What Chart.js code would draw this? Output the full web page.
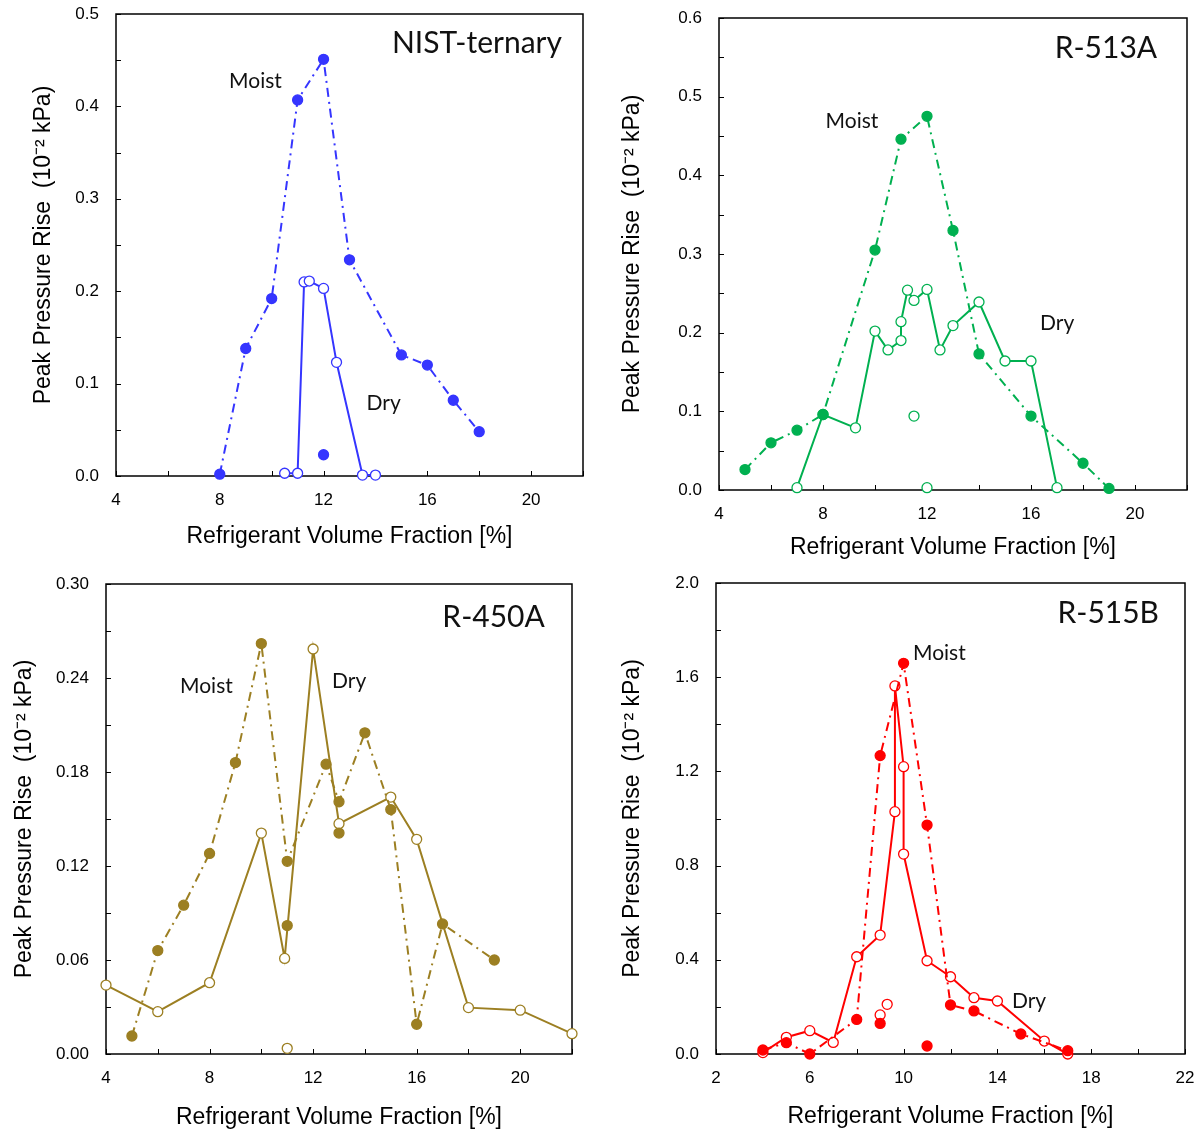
<!DOCTYPE html>
<html>
<head>
<meta charset="utf-8">
<script src="https://cdn.jsdelivr.net/npm/chart.js@4.4.1/dist/chart.umd.min.js"></script>
<style>
  body { margin: 0; background: #fff; }
  #wrap { position: relative; width: 1202px; height: 1134px; }
  canvas { position: absolute; }
</style>
</head>
<body>
<div id="wrap">
  <canvas id="nist" width="600" height="565" style="left:0;top:0"></canvas>
  <canvas id="r513" width="602" height="565" style="left:600px;top:0"></canvas>
  <canvas id="r450" width="600" height="569" style="left:0;top:565px"></canvas>
  <canvas id="r515" width="602" height="569" style="left:600px;top:565px"></canvas>
</div>
<script>
// NIST-ternary
const nistMoistX = [8, 9, 10, 11, 12, 13, 15, 16, 17, 18];
const nistMoistY = [0.002, 0.138, 0.192, 0.407, 0.451, 0.234, 0.131, 0.120, 0.082, 0.048];
const nistMoistLoneX = [12];
const nistMoistLoneY = [0.023];
const nistDryX = [10.5, 11, 11.25, 11.45, 12, 12.5, 13.5, 14];
const nistDryY = [0.003, 0.003, 0.210, 0.211, 0.203, 0.123, 0.001, 0.001];
const nistXLabels = [4, 8, 12, 16, 20];
const nistYLabels = [0, 0.1, 0.2, 0.3, 0.4, 0.5];

// R-513A
const r513MoistX = [5, 6, 7, 8, 10, 11, 12, 13, 14, 16, 18, 19];
const r513MoistY = [0.026, 0.060, 0.076, 0.096, 0.305, 0.446, 0.475, 0.330, 0.173, 0.094, 0.034, 0.002];
const r513DryX = [7, 8, 9.25, 10, 10.5, 11, 11, 11.25, 11.5, 12, 12.5, 13, 14, 15, 16, 17];
const r513DryY = [0.003, 0.096, 0.079, 0.202, 0.178, 0.190, 0.214, 0.254, 0.241, 0.255, 0.178, 0.209, 0.239, 0.164, 0.164, 0.003];
const r513DryLoneX = [11.5, 12];
const r513DryLoneY = [0.094, 0.003];
const r513XLabels = [4, 8, 12, 16, 20];
const r513YLabels = [0, 0.1, 0.2, 0.3, 0.4, 0.5, 0.6];

// R-450A
const r450MoistX = [5, 6, 7, 8, 9, 10, 11, 12.5, 13, 14, 15, 16, 17, 19];
const r450MoistY = [0.0115, 0.066, 0.095, 0.128, 0.186, 0.262, 0.123, 0.185, 0.161, 0.205, 0.156, 0.019, 0.083, 0.060];
const r450MoistLoneX = [11, 13];
const r450MoistLoneY = [0.082, 0.141];
const r450DryX = [4, 6, 8, 10, 10.9, 12, 13, 15, 16, 18, 20, 22];
const r450DryY = [0.044, 0.027, 0.0455, 0.141, 0.061, 0.2585, 0.147, 0.164, 0.137, 0.0296, 0.028, 0.013];
const r450DryLoneX = [11];
const r450DryLoneY = [0.0036];
const r450XLabels = [4, 8, 12, 16, 20];
const r450YLabels = [0, 0.06, 0.12, 0.18, 0.24, 0.30];

// R-515B
const r515MoistX = [4, 5, 6, 8, 9, 10, 11, 12, 13, 15, 17];
const r515MoistY = [0.017, 0.048, 0.0, 0.147, 1.267, 1.659, 0.972, 0.208, 0.183, 0.085, 0.014];
const r515MoistLoneX = [9, 11];
const r515MoistLoneY = [0.130, 0.034];
const r515DryX = [4, 5, 6, 7, 8, 9, 9.63, 9.63, 10, 10, 11, 12, 13, 14, 16, 17];
const r515DryY = [0.006, 0.071, 0.099, 0.049, 0.413, 0.505, 1.029, 1.563, 1.22, 0.849, 0.396, 0.328, 0.239, 0.225, 0.055, 0.0];
const r515DryLoneX = [9, 9.3];
const r515DryLoneY = [0.166, 0.211];
const r515XLabels = [2, 6, 10, 14, 18, 22];
const r515YLabels = [0, 0.4, 0.8, 1.2, 1.6, 2.0];

Chart.defaults.font.family = "'Liberation Sans', Arial, sans-serif";
Chart.defaults.color = '#000';

const pts = (xs, ys) => xs.map((x, i) => ({ x: x, y: ys[i] }));
const has = (arr, v) => arr.some(a => Math.abs(a - v) < 1e-9);

// frame, inward tick marks and text notes
const panelDecor = {
  id: 'panelDecor',
  beforeDatasetsDraw(chart) {
    const { ctx, chartArea: a, scales } = chart;
    ctx.save();
    ctx.strokeStyle = '#000';
    ctx.lineWidth = 1;
    scales.x.ticks.forEach(t => {
      const px = Math.round(scales.x.getPixelForValue(t.value)) + 0.5;
      ctx.beginPath(); ctx.moveTo(px, a.bottom); ctx.lineTo(px, a.bottom - 5); ctx.stroke();
    });
    scales.y.ticks.forEach(t => {
      const py = Math.round(scales.y.getPixelForValue(t.value)) + 0.5;
      ctx.beginPath(); ctx.moveTo(a.left, py); ctx.lineTo(a.left + 5, py); ctx.stroke();
    });
    ctx.lineWidth = 1.5;
    ctx.strokeRect(a.left, a.top, a.right - a.left, a.bottom - a.top);
    ctx.restore();
  },
  afterDraw(chart, args, opts) {
    const { ctx, scales } = chart;
    ctx.save();
    ctx.fillStyle = '#111';
    ctx.textBaseline = 'alphabetic';
    opts.notes.forEach(n => {
      ctx.font = n.size + "px Lato, 'Open Sans', sans-serif";
      ctx.textAlign = n.align;
      ctx.fillText(n.text, scales.x.getPixelForValue(n.x), scales.y.getPixelForValue(n.y));
    });
    ctx.restore();
  }
};

function makePanel(id, p) {
  const moistDash = [9, 5, 2, 5];
  const datasets = [
    { data: pts(p.moistX, p.moistY), showLine: true, borderDash: moistDash,
      borderColor: p.color, backgroundColor: p.color, pointBackgroundColor: p.color, order: 0 },
    { data: pts(p.dryX, p.dryY), showLine: true,
      borderColor: p.color, backgroundColor: '#fff', pointBackgroundColor: '#fff', order: 1 }
  ];
  if (p.moistLoneX) datasets.push({ data: pts(p.moistLoneX, p.moistLoneY), showLine: false,
    borderColor: p.color, backgroundColor: p.color, pointBackgroundColor: p.color, order: 0 });
  if (p.dryLoneX) datasets.push({ data: pts(p.dryLoneX, p.dryLoneY), showLine: false,
    borderColor: p.color, backgroundColor: '#fff', pointBackgroundColor: '#fff', order: 1 });
  datasets.forEach(d => {
    d.borderWidth = 2;
    d.pointRadius = 5;
    d.pointBorderWidth = 1.3;
    d.pointBorderColor = p.color;
    d.clip = false;
  });

  const canvas = document.getElementById(id);
  const H = canvas.height;
  const stepTicks = (min, max, step) => scale => {
    const t = [];
    for (let v = min; v <= max + 1e-9; v += step) t.push({ value: +v.toFixed(4) });
    scale.ticks = t;
  };

  new Chart(canvas.getContext('2d'), {
    type: 'scatter',
    data: { datasets: datasets },
    options: {
      responsive: false,
      animation: false,
      layout: { padding: { top: p.area.top, right: canvas.width - p.area.right, left: 0, bottom: 0 } },
      plugins: {
        legend: { display: false },
        tooltip: { enabled: false },
        panelDecor: { notes: p.notes }
      },
      scales: {
        x: {
          type: 'linear', min: p.xMin, max: p.xMax,
          grid: { display: false }, border: { display: false },
          afterBuildTicks: stepTicks(p.xMin, p.xMax, p.xMinor),
          afterFit: s => { s.height = H - p.area.bottom; s.paddingLeft = 0; s.paddingRight = 0; },
          ticks: {
            autoSkip: false, maxRotation: 0, padding: 6, font: { size: 17 },
            callback: v => has(p.xLabels, v) ? String(v) : ''
          },
          title: { display: true, text: 'Refrigerant Volume Fraction [%]', font: { size: 23 },
            padding: { top: 0, bottom: p.xTitlePad } }
        },
        y: {
          type: 'linear', min: 0, max: p.yMax,
          grid: { display: false }, border: { display: false },
          afterBuildTicks: stepTicks(0, p.yMax, p.yMinor),
          afterFit: s => { s.width = p.area.left; s.paddingTop = 0; s.paddingBottom = 0; },
          ticks: {
            autoSkip: false, padding: 9, font: { size: 17 },
            callback: v => has(p.yLabels, v) ? v.toFixed(p.yDigits) : ''
          },
          title: { display: true, text: 'Peak Pressure Rise  (10\u207B\u00B2 kPa)', font: { size: 23 },
            padding: { top: p.yTitlePad, bottom: 0 } }
        }
      }
    },
    plugins: [panelDecor]
  });
}

makePanel('nist', {
  color: '#3535FF',
  moistX: nistMoistX, moistY: nistMoistY, moistLoneX: nistMoistLoneX, moistLoneY: nistMoistLoneY,
  dryX: nistDryX, dryY: nistDryY,
  xMin: 4, xMax: 22, xMinor: 2, xLabels: nistXLabels,
  yMax: 0.5, yMinor: 0.05, yLabels: nistYLabels, yDigits: 1,
  area: { left: 116, right: 583, top: 14, bottom: 476 },
  xTitlePad: 15, yTitlePad: 30,
  notes: [
    { text: 'NIST-ternary', x: 21.19, y: 0.458, size: 30, align: 'right' },
    { text: 'Moist', x: 8.36, y: 0.420, size: 21, align: 'left' },
    { text: 'Dry', x: 13.66, y: 0.071, size: 21, align: 'left' }
  ]
});

makePanel('r513', {
  color: '#00B050',
  moistX: r513MoistX, moistY: r513MoistY,
  dryX: r513DryX, dryY: r513DryY, dryLoneX: r513DryLoneX, dryLoneY: r513DryLoneY,
  xMin: 4, xMax: 22, xMinor: 2, xLabels: r513XLabels,
  yMax: 0.6, yMinor: 0.05, yLabels: r513YLabels, yDigits: 1,
  area: { left: 119, right: 587, top: 18, bottom: 490 },
  xTitlePad: 4, yTitlePad: 19,
  notes: [
    { text: 'R-513A', x: 20.85, y: 0.549, size: 30, align: 'right' },
    { text: 'Moist', x: 8.10, y: 0.460, size: 21, align: 'left' },
    { text: 'Dry', x: 16.35, y: 0.203, size: 21, align: 'left' }
  ]
});

makePanel('r450', {
  color: '#9C7F22',
  moistX: r450MoistX, moistY: r450MoistY, moistLoneX: r450MoistLoneX, moistLoneY: r450MoistLoneY,
  dryX: r450DryX, dryY: r450DryY, dryLoneX: r450DryLoneX, dryLoneY: r450DryLoneY,
  xMin: 4, xMax: 22, xMinor: 2, xLabels: r450XLabels,
  yMax: 0.30, yMinor: 0.03, yLabels: r450YLabels, yDigits: 2,
  area: { left: 106, right: 572, top: 19, bottom: 489 },
  xTitlePad: 3, yTitlePad: 11,
  notes: [
    { text: 'R-450A', x: 20.95, y: 0.2725, size: 30, align: 'right' },
    { text: 'Moist', x: 6.86, y: 0.2304, size: 21, align: 'left' },
    { text: 'Dry', x: 12.73, y: 0.2336, size: 21, align: 'left' }
  ]
});

makePanel('r515', {
  color: '#FF0000',
  moistX: r515MoistX, moistY: r515MoistY, moistLoneX: r515MoistLoneX, moistLoneY: r515MoistLoneY,
  dryX: r515DryX, dryY: r515DryY, dryLoneX: r515DryLoneX, dryLoneY: r515DryLoneY,
  xMin: 2, xMax: 22, xMinor: 2, xLabels: r515XLabels,
  yMax: 2.0, yMinor: 0.2, yLabels: r515YLabels, yDigits: 1,
  area: { left: 116, right: 585, top: 18, bottom: 489 },
  xTitlePad: 4, yTitlePad: 19,
  notes: [
    { text: 'R-515B', x: 20.89, y: 1.830, size: 30, align: 'right' },
    { text: 'Moist', x: 10.40, y: 1.673, size: 21, align: 'left' },
    { text: 'Dry', x: 14.62, y: 0.195, size: 21, align: 'left' }
  ]
});
</script>
</body>
</html>
